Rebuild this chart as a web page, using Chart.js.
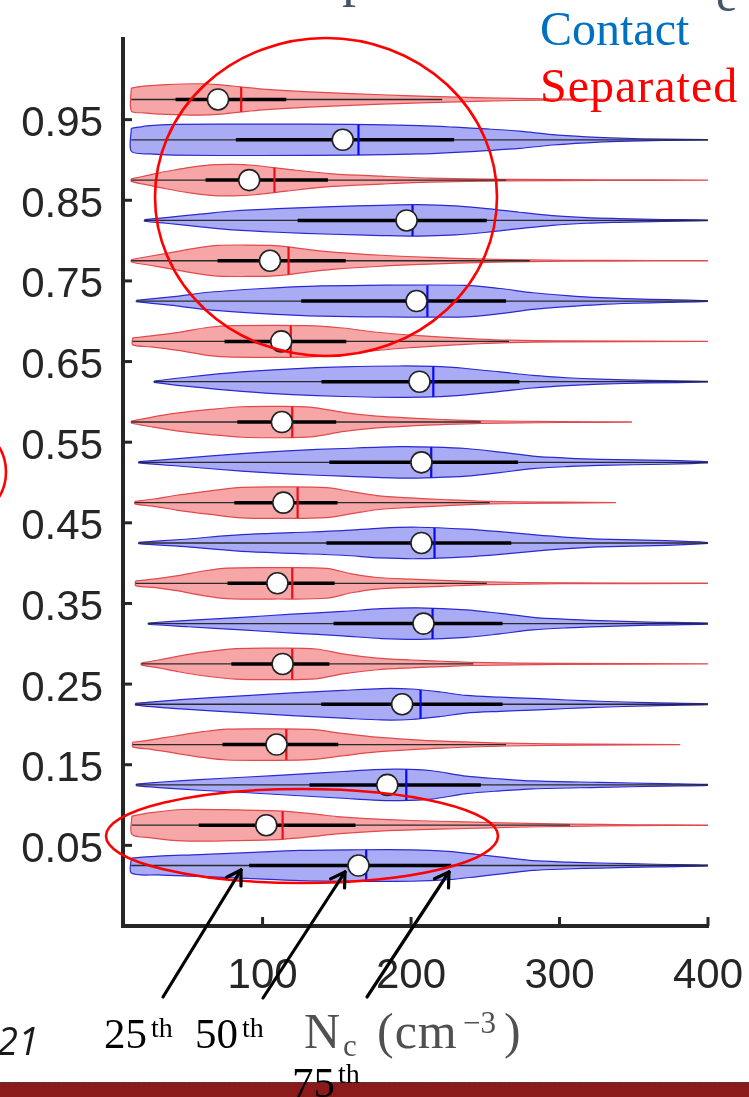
<!DOCTYPE html>
<html><head><meta charset="utf-8">
<script src="https://cdn.jsdelivr.net/npm/chart.js@4.4.1/dist/chart.umd.min.js"></script>
<style>
html,body{margin:0;padding:0;background:#fff;}
#wrap{position:relative;width:749px;height:1097px;overflow:hidden;background:#fff;}
#c{position:absolute;left:0;top:0;}
#ann{position:absolute;left:0;top:0;pointer-events:none;}
.t{position:absolute;white-space:nowrap;line-height:1;}
.serif{font-family:'Liberation Serif',serif;}
</style></head><body>
<div id="wrap">
<canvas id="c" width="749" height="1097"></canvas>
<svg id="ann" width="749" height="1097" xmlns="http://www.w3.org/2000/svg"></svg>
<div class="t serif" style="left:342px;top:-52px;font-size:56px;color:#44546A;">p</div>
<div class="t serif" style="left:716px;top:-29px;font-size:48px;color:#44546A;">e</div>
<div class="t serif" style="left:540px;top:5px;font-size:48px;color:#0070C0;">Contact</div>
<div class="t serif" style="left:540px;top:62px;font-size:48px;color:#FF0000;letter-spacing:1px;">Separated</div>
<div class="t" style="left:-3px;top:1021px;font-size:38px;font-family:'Open Sans',sans-serif;font-style:italic;color:#1a1a1a;">21</div>
<div style="position:absolute;left:0;top:1082px;width:749px;height:15px;background:#8B1A1A;border-top:1px dashed #444;"></div>
<div class="t serif" style="left:104px;top:1012px;font-size:43px;color:#000;">25</div>
<div class="t serif" style="left:151px;top:1014px;font-size:28px;color:#000;">th</div>
<div class="t serif" style="left:195px;top:1012px;font-size:43px;color:#000;">50</div>
<div class="t serif" style="left:242px;top:1014px;font-size:28px;color:#000;">th</div>
<div class="t serif" style="left:292px;top:1061px;font-size:43px;color:#000;">75</div>
<div class="t serif" style="left:338px;top:1060px;font-size:28px;color:#000;">th</div>
<div class="t serif" style="left:304px;top:1006px;font-size:50px;color:#505050;">N</div>
<div class="t serif" style="left:343px;top:1030px;font-size:31px;color:#505050;">c</div>
<div class="t serif" style="left:377px;top:1006px;font-size:50px;color:#505050;letter-spacing:1px;">(cm</div>
<div class="t serif" style="left:463px;top:1007px;font-size:31px;color:#505050;">−3</div>
<div class="t serif" style="left:504px;top:1006px;font-size:50px;color:#505050;">)</div>
</div>
<script>
// ---- data ----
const categories = ['0.05','0.15','0.25','0.35','0.45','0.55','0.65','0.75','0.85','0.95'];
const yTickValues = [0.05,0.15,0.25,0.35,0.45,0.55,0.65,0.75,0.85,0.95];
const xTickValues = [100,200,300,400];

// Separated (red) statistics, per category (0.05 -> 0.95)
const sepQ1        = [57,73,79,76.4,81,83,74.4,69.7,61.6,41.4];
const sepMedian    = [102.5,109.4,113.5,110,114,113,112.6,105,91,70];
const sepMean      = [113.5,116,120,120,123.6,120,119,117.5,108,85.6];
const sepQ3        = [162.6,151,145,148.5,150.5,149.6,156.4,156,144,116];
const sepWhiskerHi = [307,264,242,251,253,247,266,280,264,221];
// Contact (blue) statistics
const conQ1        = [91,131.6,139.5,147.8,143,145,139.7,126,123.6,82];
const conMedian    = [164.6,184,194,208.4,207,207,205.7,203.7,197,154];
const conMean      = [169.8,196.8,206.4,214.5,215.8,213.6,215,211,201,164.6];
const conQ3        = [227,247,261.6,261.6,267.5,272,273,264,251,229];
const conWhiskerHi = [400,400,400,400,400,400,400,400,400,400];

// violin outlines: [Nc, relative half-width]
const sepShapes = [
 [[12,0.58],[25,0.8],[46,1.0],[80,0.98],[113,0.9],[136,0.7],[150,0.55],[170,0.42],[200,0.3],[237,0.21],[270,0.13],[307,0.07],[350,0.03],[400,0.005]],
 [[12.5,0.15],[25,0.3],[42,0.56],[60,0.82],[76,0.98],[105,1.0],[132,0.96],[155,0.7],[177,0.47],[200,0.32],[221,0.22],[264,0.09],[320,0.03],[381,0.005]],
 [[18.3,0.06],[30,0.25],[42,0.47],[60,0.75],[82,0.97],[110,1.0],[136,0.95],[155,0.62],[177,0.37],[200,0.25],[221,0.17],[242,0.1],[300,0.03],[400,0.005]],
 [[14.5,0.15],[28,0.28],[42,0.47],[60,0.78],[76,0.97],[110,1.0],[143,0.95],[160,0.6],[177,0.37],[200,0.26],[221,0.19],[251,0.09],[300,0.03],[400,0.005]],
 [[14,0.08],[28,0.25],[42,0.47],[65,0.75],[86,0.97],[115,1.0],[143,0.95],[160,0.7],[177,0.45],[200,0.3],[221,0.2],[253,0.08],[300,0.03],[337.7,0.005]],
 [[11.6,0.06],[25,0.3],[42,0.56],[65,0.8],[86,0.97],[110,1.0],[132,0.95],[155,0.6],[177,0.37],[200,0.25],[221,0.16],[247,0.08],[300,0.03],[348.5,0.005]],
 [[12.5,0.22],[25,0.35],[42,0.56],[64,0.9],[80,1.0],[130,1.0],[154,0.85],[177,0.58],[200,0.4],[221,0.27],[245,0.15],[266,0.08],[300,0.03],[400,0.005]],
 [[11.6,0.08],[25,0.3],[40,0.55],[55,0.8],[70,0.98],[90,1.0],[105,0.98],[116,0.9],[130,0.72],[147,0.55],[180,0.35],[212,0.22],[250,0.1],[280,0.05],[330,0.02],[400,0.005]],
 [[11.6,0.08],[25,0.35],[35,0.55],[50,0.8],[65,0.97],[80,1.0],[95,0.93],[116,0.7],[147,0.4],[180,0.25],[212,0.13],[264,0.05],[330,0.02],[400,0.005]],
 [[11.6,0.73],[20,0.85],[35,0.95],[57,1.0],[70,0.95],[85,0.8],[100,0.66],[116,0.56],[147,0.42],[180,0.3],[212,0.2],[250,0.1],[290,0.04],[331,0.01]]
];
const conShapes = [
 [[11.6,0.48],[30,0.6],[57.6,0.69],[90,0.82],[125,0.96],[160,1.0],[200,1.0],[225,0.9],[245,0.7],[264,0.5],[282,0.31],[305,0.22],[327,0.16],[365,0.08],[400,0.03]],
 [[15,0.05],[35,0.2],[57.6,0.34],[90,0.5],[125,0.69],[154,0.85],[175,0.97],[192,1.0],[214,0.9],[237,0.56],[260,0.38],[282,0.25],[327,0.16],[370,0.08],[400,0.03]],
 [[14.5,0.06],[45,0.3],[86,0.53],[120,0.72],[154,0.88],[180,1.0],[200,0.97],[220,0.78],[237,0.56],[260,0.45],[282,0.37],[305,0.27],[327,0.19],[360,0.1],[400,0.03]],
 [[23,0.04],[50,0.2],[86,0.4],[120,0.6],[154,0.78],[180,0.95],[205,1.0],[237,0.88],[260,0.65],[282,0.4],[305,0.27],[327,0.19],[360,0.1],[400,0.03]],
 [[16.6,0.04],[45,0.22],[86,0.53],[120,0.66],[154,0.78],[180,0.95],[205,1.0],[237,0.88],[260,0.72],[282,0.53],[305,0.36],[327,0.25],[372,0.15],[400,0.03]],
 [[16.6,0.04],[45,0.25],[86,0.56],[120,0.75],[154,0.88],[192,1.0],[215,0.97],[237,0.88],[260,0.65],[282,0.4],[305,0.27],[327,0.19],[372,0.12],[400,0.03]],
 [[27,0.04],[50,0.3],[86,0.62],[120,0.82],[154,0.94],[192,1.0],[215,0.97],[237,0.84],[260,0.62],[282,0.4],[305,0.25],[327,0.16],[360,0.08],[400,0.02]],
 [[15,0.04],[42,0.3],[64,0.56],[100,0.8],[131,0.94],[170,1.0],[237,1.0],[260,0.8],[282,0.53],[305,0.35],[327,0.22],[350,0.14],[372,0.09],[400,0.02]],
 [[20.5,0.05],[35,0.18],[60,0.42],[80,0.6],[110,0.75],[147,0.88],[180,0.96],[205,1.0],[230,0.92],[251,0.75],[273,0.52],[295,0.31],[318,0.18],[340,0.12],[370,0.06],[400,0.02]],
 [[11.6,0.73],[24,0.9],[40,0.98],[100,1.0],[160,0.98],[206,0.9],[230,0.8],[251,0.69],[273,0.55],[295,0.33],[318,0.19],[340,0.1],[370,0.04],[400,0.01]]
];

// ---- build ----
const H = 0.0195;          // max half width (y units)
const OFF = 0.025;         // vertical offset of each group from the tick
const RED_FILL='#F6A6A6', RED_LINE='#E04A4F', RED_MEAN='#E8101A';
const BLUE_FILL='#A9ABF5', BLUE_LINE='#2A2AD0', BLUE_MEAN='#0A0AF0';

function widthAt(shape, x){
  for(let i=0;i<shape.length-1;i++){
    const a=shape[i], b=shape[i+1];
    if(x>=a[0] && x<=b[0]){ const t=(x-a[0])/(b[0]-a[0]); return a[1]+(b[1]-a[1])*t; }
  }
  return 0;
}
function violin(shape, yc){
  const up = shape.map(p=>({x:p[0], y:yc+p[1]*H}));
  const low = shape.slice().reverse().map(p=>({x:p[0], y:yc-p[1]*H}));
  return up.concat(low,[up[0]]);
}
const datasets=[];
function addGroup(shapes,q1,med,mean,q3,whi,sign,fill,line,meanCol){
  shapes.forEach((shape,i)=>{
    const yc = yTickValues[i]+sign*OFF;
    datasets.push({data:violin(shape,yc), showLine:true, fill:'shape', backgroundColor:fill,
      borderColor:line, borderWidth:1.2, pointRadius:0, tension:0.3, order:5});
    datasets.push({data:[{x:shape[0][0],y:yc},{x:whi[i],y:yc}], showLine:true, borderColor:'#2a2a2a',
      borderWidth:1.3, pointRadius:0, order:4});
    datasets.push({data:[{x:q1[i],y:yc},{x:q3[i],y:yc}], showLine:true, borderColor:'#000',
      borderWidth:3.5, pointRadius:0, order:3});
    const hw = widthAt(shape, mean[i])*H;
    datasets.push({data:[{x:mean[i],y:yc-hw},{x:mean[i],y:yc+hw}], showLine:true, borderColor:meanCol,
      borderWidth:2.2, pointRadius:0, order:2});
  });
  datasets.push({data:med.map((m,i)=>({x:m,y:yTickValues[i]+sign*OFF})), showLine:false,
    pointRadius:10.5, pointBackgroundColor:'#fff', pointBorderColor:'#222', pointBorderWidth:1.6, order:1});
}
addGroup(sepShapes,sepQ1,sepMedian,sepMean,sepQ3,sepWhiskerHi, 1,RED_FILL,RED_LINE,RED_MEAN);
addGroup(conShapes,conQ1,conMedian,conMean,conQ3,conWhiskerHi,-1,BLUE_FILL,BLUE_LINE,BLUE_MEAN);

const AX='#262626';
const innerTicks={id:'innerTicks', afterDraw(chart){
  const {ctx, chartArea:a, scales:{x,y}}=chart;
  ctx.save(); ctx.strokeStyle=AX; ctx.lineWidth=3;
  yTickValues.forEach(v=>{const p=y.getPixelForValue(v);ctx.beginPath();ctx.moveTo(a.left,p);ctx.lineTo(a.left+9,p);ctx.stroke();});
  xTickValues.forEach(v=>{const p=x.getPixelForValue(v);ctx.beginPath();ctx.moveTo(p,a.bottom);ctx.lineTo(p,a.bottom-9);ctx.stroke();});
  ctx.restore();
}};

new Chart(document.getElementById('c'),{
  type:'scatter',
  data:{datasets},
  options:{
    responsive:false, animation:false, events:[],
    layout:{padding:{top:39,right:41,left:0,bottom:0}},
    plugins:{legend:{display:false},tooltip:{enabled:false}},
    scales:{
      x:{type:'linear',min:6,max:400,
        afterBuildTicks:s=>{s.ticks=xTickValues.map(v=>({value:v}));},
        afterFit:s=>{s.height=171;s.paddingLeft=0;s.paddingRight=0;},
        grid:{display:true,drawOnChartArea:false,drawTicks:true,tickLength:22,tickColor:'rgba(0,0,0,0)'},
        border:{display:true,width:4,color:AX},
        ticks:{autoSkip:false,maxRotation:0,padding:3,color:AX,font:{family:'Liberation Sans',size:42}}},
      y:{type:'linear',min:-0.05,max:1.05,
        afterBuildTicks:s=>{s.ticks=yTickValues.map(v=>({value:v}));},
        afterFit:s=>{s.width=123;s.paddingTop=0;s.paddingBottom=0;},
        grid:{display:false,drawTicks:false},
        border:{display:true,width:4,color:AX},
        ticks:{autoSkip:false,padding:20,labelOffset:5,color:AX,font:{family:'Liberation Sans',size:42},
          callback:(v,i)=>categories[i]}}
    }
  },
  plugins:[innerTicks]
});

// ---- annotations (red circles and arrows) ----
const svg=document.getElementById('ann');
const NS='http://www.w3.org/2000/svg';
function el(tag,attrs){const e=document.createElementNS(NS,tag);for(const k in attrs)e.setAttribute(k,attrs[k]);svg.appendChild(e);return e;}
el('ellipse',{cx:326,cy:197,rx:171,ry:159,fill:'none',stroke:'#FF0000','stroke-width':2.6});
el('ellipse',{cx:302,cy:836,rx:196,ry:47,fill:'none',stroke:'#FF0000','stroke-width':2.6});
el('circle',{cx:-42,cy:472,r:48,fill:'none',stroke:'#FF0000','stroke-width':2.6});
[[163,997,241,870],[263,998,345,872],[367,997,449,872]].forEach(([x1,y1,x2,y2])=>{
  el('line',{x1,y1,x2,y2,stroke:'#000','stroke-width':3.2,'stroke-linecap':'round'});
  const ang=Math.atan2(y2-y1,x2-x1), L=16;
  [0.55,-0.55].forEach(d=>{
    const a=ang+Math.PI+d;
    el('line',{x1:x2,y1:y2,x2:x2+L*Math.cos(a),y2:y2+L*Math.sin(a),stroke:'#000','stroke-width':3.2,'stroke-linecap':'round'});
  });
});
</script>
</body></html>
